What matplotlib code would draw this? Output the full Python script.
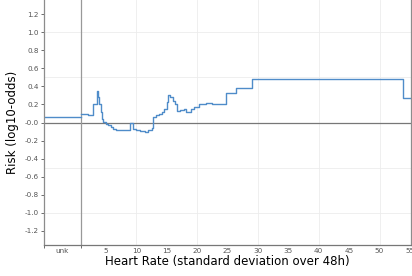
import numpy as np
import matplotlib
matplotlib.use("Agg")
import matplotlib.pyplot as plt
from matplotlib.ticker import FuncFormatter

# score for the "unknown" bin
unk_score = 0.06

# bin edges (heart rate sd) and score per bin, drawn as steps
bin_edges = [0.89, 2.0, 2.85, 3.6, 3.75, 3.9, 4.1, 4.3, 4.55, 5.0, 5.4, 5.9, 6.2, 6.6,
             7.5, 8.4, 8.9, 9.45, 10.0, 10.6, 11.4, 11.9, 12.5, 12.8, 13.2, 13.8, 14.2,
             14.6, 15.0, 15.25, 15.6, 16.0, 16.35, 16.7, 17.2, 17.8, 18.2, 19.0, 19.5,
             20.3, 21.0, 21.5, 22.5, 23.6, 24.74, 26.4, 29.07, 53.9, 55.2]
bin_scores = [0.089, 0.078, 0.2, 0.355, 0.28, 0.2, 0.12, 0.044, 0.003, -0.015, -0.033,
              -0.05, -0.07, -0.08, -0.085, -0.08, -0.01, -0.07, -0.08, -0.097, -0.107,
              -0.08, -0.06, 0.065, 0.078, 0.096, 0.12, 0.152, 0.226, 0.3, 0.28, 0.244,
              0.21, 0.133, 0.14, 0.152, 0.114, 0.15, 0.17, 0.2, 0.207, 0.215, 0.21, 0.2,
              0.326, 0.378, 0.478, 0.274]

x_ticks = [5, 10, 15, 20, 25, 30, 35, 40, 45, 50, 55]
y_ticks = np.round(np.arange(-1.2, 1.21, 0.2), 1)

unk_pos = -2.24
x_min, x_max = -5.2, 55.1
line_col = '#4f8cc9'
axis_col = '#8c8c8c'

fig = plt.figure(figsize=(4.12, 2.76), dpi=100)
ax = fig.add_axes([0.1068, 0.1123, 0.8896, 0.8877])

# light grid
for g in [-1.0, -0.5, 0.5, 1.0]:
    ax.axhline(g, color='#ececec', lw=0.6, zorder=0)
for g in [10, 20, 30, 40, 50]:
    ax.axvline(g, color='#ececec', lw=0.6, zorder=0)

ax.axhline(0, color='#777777', lw=0.9, zorder=1)
ax.axvline(bin_edges[0], color='#999999', lw=0.9, zorder=1)

ax.plot([x_min, bin_edges[0]], [unk_score, unk_score], color=line_col, lw=1.0, zorder=2)
ax.step(bin_edges, bin_scores + [bin_scores[-1]], where='post', color=line_col, lw=1.0, zorder=2)

ax.set_xlim(x_min, x_max)
ax.set_ylim(-1.36, 1.36)

ax.set_yticks(y_ticks)
ax.yaxis.set_major_formatter(FuncFormatter(lambda v, p: f"{v:.1f}".replace("−", "-")))
ax.set_xticks([unk_pos] + x_ticks)
ax.set_xticklabels(['unk'] + [str(t) for t in x_ticks])
ax.tick_params(axis='y', labelsize=5.2, colors='#555555', length=2, width=0.6, pad=1.5)
ax.tick_params(axis='x', labelsize=5.2, colors='#555555', length=0, pad=2.5)
ax.set_xticks([x_min, bin_edges[0]], minor=True)
ax.tick_params(axis='x', which='minor', length=2, width=0.6, color='#555555')
for lab in ax.get_yticklabels() + ax.get_xticklabels():
    lab.set_color('#555555')

for side in ['left', 'right', 'bottom']:
    ax.spines[side].set_color(axis_col)
    ax.spines[side].set_linewidth(0.9)
ax.spines['bottom'].set_color('#777777')
ax.spines['top'].set_visible(False)

ax.set_xlabel('Heart Rate (standard deviation over 48h)', fontsize=8.5, labelpad=0.5)
ax.set_ylabel('Risk (log10-odds)', fontsize=8.5, labelpad=4)

fig.savefig('out.png', dpi=100)
